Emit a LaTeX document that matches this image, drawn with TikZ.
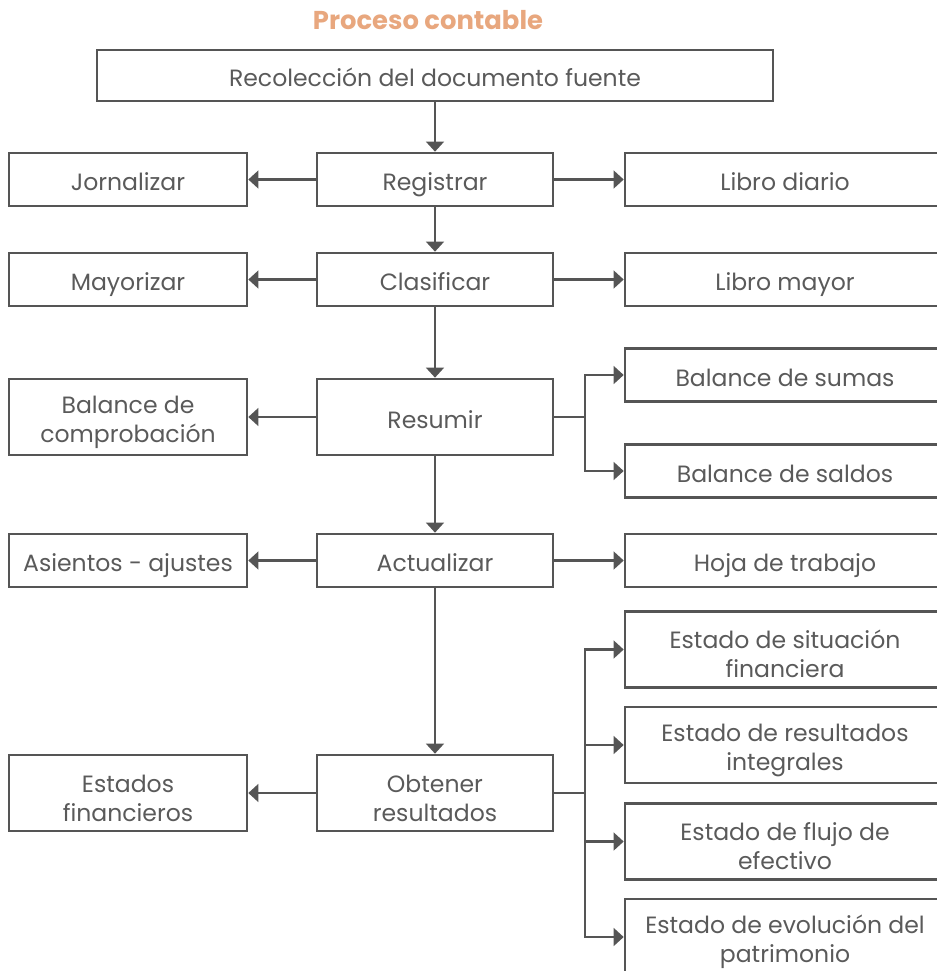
\documentclass[tikz,border=0pt]{standalone}
\usepackage{fontspec}
\setmainfont{Poppins}
\usetikzlibrary{arrows.meta}
\definecolor{linegray}{HTML}{555555}
\definecolor{textgray}{HTML}{5A5A5A}
\definecolor{titleorange}{HTML}{E8A77E}
\newcommand{\lift}{\rule{0pt}{16pt}}
\begin{document}
\begin{tikzpicture}[x=0.02cm, y=-0.02cm,
    box/.style={draw=linegray, line width=1.5pt, text=textgray, align=center,
        inner sep=0pt, minimum height=1.06cm, text height=1.38em, text depth=0.12em,
        font=\fontsize{13.4}{16.5}\selectfont},
    midbox/.style={box, minimum width=4.72cm},
    sidebox/.style={box, minimum width=4.76cm},
    outbox/.style={box, minimum width=6.4cm},
    tall/.style={minimum height=1.52cm},
    twoline/.style={tall, text height=, text depth=},
    link/.style={draw=linegray, line width=1.6pt},
    arr/.style={link, -{Triangle[length=5.7pt, width=10pt]}}]
    \useasboundingbox (0, 0) rectangle (937, 971);
    %\draw[lightgray] (0, 0) grid[step=50] (937, 971);
    \node[text=titleorange, font=\fontsize{14.7}{17}\bfseries\selectfont] (title) at (428, 20) {Proceso contable};
    \node[box, minimum width=13.52cm, minimum height=1.02cm] (rec) at (435, 75.5) {Recolección del documento fuente};
    % center column
    \node[midbox] (reg) at (435, 179.5) {Registrar};
    \node[midbox] (cla) at (435, 279.5) {Clasificar};
    \node[midbox, tall] (res) at (435, 417) {Resumir};
    \node[midbox] (act) at (435, 560.5) {Actualizar};
    \node[midbox, twoline] (obt) at (435, 793) {\lift Obtener\\resultados};
    % left column
    \node[sidebox] (jor) at (128, 179.5) {Jornalizar};
    \node[sidebox] (may) at (128, 279.5) {Mayorizar};
    \node[sidebox, twoline] (bco) at (128, 417) {\lift Balance de\\comprobación};
    \node[sidebox] (asi) at (128, 560.5) {Asientos - ajustes};
    \node[sidebox, twoline] (efi) at (128, 793) {\lift Estados\\financieros};
    % right column
    \node[outbox] (ldi) at (785, 179.5) {Libro diario};
    \node[outbox] (lma) at (785, 279.5) {Libro mayor};
    \node[outbox] (bsu) at (785, 375) {Balance de sumas};
    \node[outbox] (bsa) at (785, 471) {Balance de saldos};
    \node[outbox] (hoj) at (785, 560.5) {Hoja de trabajo};
    \node[outbox, twoline] (esf) at (785, 649.5) {\lift Estado de situación\\financiera};
    \node[outbox, twoline] (eri) at (785, 745) {\lift Estado de resultados\\integrales};
    \node[outbox, twoline] (efe) at (785, 841.5) {\lift Estado de flujo de\\efectivo};
    \node[outbox, twoline] (eev) at (785, 937) {\lift Estado de evolución del\\patrimonio};
    % downward flow
    \draw[arr] (rec) -- (reg);
    \draw[arr] (reg) -- (cla);
    \draw[arr] (cla) -- (res);
    \draw[arr] (res) -- (act);
    \draw[arr] (act) -- (obt);
    % sideways
    \draw[arr] (reg) -- (jor);
    \draw[arr] (reg) -- (ldi);
    \draw[arr] (cla) -- (may);
    \draw[arr] (cla) -- (lma);
    \draw[arr] (res) -- (bco);
    \draw[arr] (act) -- (asi);
    \draw[arr] (act) -- (hoj);
    \draw[arr] (obt) -- (efi);
    % branches
    \coordinate (rb) at (585, 417);
    \draw[link] (res) -- (rb);
    \draw[arr] (rb) |- (bsu);
    \draw[arr] (rb) |- (bsa);
    \coordinate (ob) at (585, 793);
    \draw[link] (obt) -- (ob);
    \draw[arr] (ob) |- (esf);
    \draw[arr] (ob) |- (eri);
    \draw[arr] (ob) |- (efe);
    \draw[arr] (ob) |- (eev);
\end{tikzpicture}
\end{document}
